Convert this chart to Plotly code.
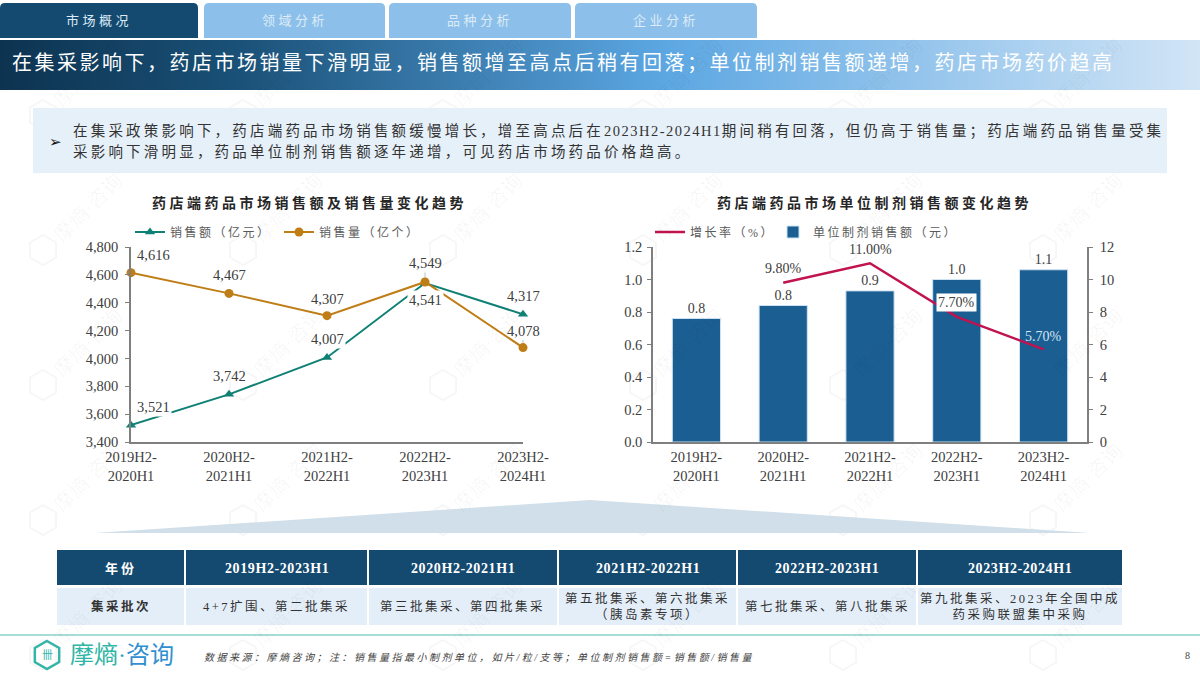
import base64
import plotly.graph_objects as go

# 数据
periods = ["2019H2-<br>2020H1", "2020H2-<br>2021H1", "2021H2-<br>2022H1", "2022H2-<br>2023H1", "2023H2-<br>2024H1"]
sales_amount = [3521, 3742, 4007, 4541, 4317]
sales_volume = [4616, 4467, 4307, 4549, 4078]
unit_sales = [0.76, 0.84, 0.93, 1.00, 1.06]
growth_periods = periods[1:]
growth_rate = [9.8, 11.0, 7.7, 5.7]

tabs = ["市场概况", "领域分析", "品种分析", "企业分析"]
headline = "在集采影响下，药店市场销量下滑明显，销售额增至高点后稍有回落；单位制剂销售额递增，药店市场药价趋高"
table_header = ["年份", "2019H2-2023H1", "2020H2-2021H1", "2021H2-2022H1", "2022H2-2023H1", "2023H2-2024H1"]
table_row = ["集采批次", "4+7扩围、第二批集采", "第三批集采、第四批集采", "第五批集采、第六批集采<br>（胰岛素专项）",
             "第七批集采、第八批集采", "第九批集采、2023年全国中成<br>药采购联盟集中采购"]

FONT = "Liberation Serif, Noto Sans CJK SC"
TEXT = "#404040"
TEAL = "#0f8074"
ORANGE = "#bf7d16"
BAR = "#1a5e92"
CRIMSON = "#c0134f"
NAVY = "#154a70"


def px(x):
    return x / 1200


def py(y):
    return 1 - y / 675


def spaced(text, gap):
    return f'<span style="letter-spacing:{gap}px">{text}</span>'


def rect(x0, y0, x1, y1, color):
    return dict(type="rect", xref="paper", yref="paper", x0=px(x0), x1=px(x1), y0=py(y0), y1=py(y1),
                fillcolor=color, line_width=0, layer="below")


def poly(points, fill=None, line=None, width=1, layer="below"):
    d = "M" + " L".join(f"{px(x):.5f},{py(y):.5f}" for x, y in points) + " Z"
    return dict(type="path", xref="paper", yref="paper", path=d, fillcolor=fill or "rgba(0,0,0,0)",
                line=dict(color=line or "rgba(0,0,0,0)", width=width), layer=layer)


def label(x, y, text, size=14, color=TEXT, anchor="center", **kw):
    return dict(xref="paper", yref="paper", x=px(x), y=py(y), text=text, showarrow=False,
                xanchor=anchor, yanchor="middle", font=dict(family=FONT, size=size, color=color), **kw)


def hexagon(cx, cy, r):
    return [(cx, cy - r), (cx + r * 0.87, cy - r * 0.5), (cx + r * 0.87, cy + r * 0.5),
            (cx, cy + r), (cx - r * 0.87, cy + r * 0.5), (cx - r * 0.87, cy - r * 0.5)]


shapes = []
annotations = []

# 水印
for wx in range(43, 1200, 200):
    for wy in (115, 250, 385, 520, 655):
        shapes.append(poly(hexagon(wx, wy, 15), line="rgba(0,0,0,0.035)", width=2))
        annotations.append(label(wx + 45, wy - 42, "摩熵·咨询", size=20, color="rgba(0,0,0,0.04)", textangle=-45))

# 顶部页签
tab_edges = [(0, 198), (204, 385), (389, 571), (575, 757)]
for i, (name, (x0, x1)) in enumerate(zip(tabs, tab_edges)):
    d = (f"M{px(x0)},{py(38)} L{px(x0)},{py(8)} Q{px(x0)},{py(3)} {px(x0 + 5)},{py(3)} "
         f"L{px(x1 - 5)},{py(3)} Q{px(x1)},{py(3)} {px(x1)},{py(8)} L{px(x1)},{py(38)} Z")
    shapes.append(dict(type="path", xref="paper", yref="paper", path=d, line_width=0,
                       fillcolor=NAVY if i == 0 else "#8cc0ea", layer="below"))
    annotations.append(label((x0 + x1) / 2, 21, spaced(name, 3.5), size=13, color="#dcebf7"))

# 标题栏渐变
svg = ('<svg xmlns="http://www.w3.org/2000/svg" width="1200" height="50" preserveAspectRatio="none">'
       '<defs><linearGradient id="g"><stop offset="0" stop-color="#0d3350"/>'
       '<stop offset="0.2" stop-color="#1a5178"/><stop offset="0.55" stop-color="#5ba6e2"/>'
       '<stop offset="1" stop-color="#d2e5f6"/></linearGradient></defs>'
       '<rect width="1200" height="50" fill="url(#g)"/></svg>')
images = [dict(source="data:image/svg+xml;base64," + base64.b64encode(svg.encode()).decode(),
               xref="paper", yref="paper", x=0, y=py(40), sizex=1, sizey=50 / 675,
               sizing="stretch", xanchor="left", yanchor="top", layer="below")]
annotations.append(label(10, 63, spaced(headline, 2.5), size=20, color="white", anchor="left"))

# 说明文字
shapes.append(rect(33, 108, 1167, 173, "#e6f0f9"))
annotations.append(dict(xref="paper", yref="paper", x=px(47), y=py(131), text="➢", showarrow=False,
                        font=dict(family="DejaVu Sans", size=15, color="#111111")))
annotations.append(label(71, 131, spaced("在集采政策影响下，药店端药品市场销售额缓慢增长，增至高点后在", 3.2)
                         + spaced("2023H2-2024H1", 1.5)
                         + spaced("期间稍有回落，但仍高于销售量；药店端药品销售量受集", 3.2),
                         size=14.5, color="#333333", anchor="left"))
annotations.append(label(71, 152, spaced("采影响下滑明显，药品单位制剂销售额逐年递增，可见药店市场药品价格趋高。", 3.2),
                         size=14.5, color="#333333", anchor="left"))

# 图表标题
annotations.append(label(309, 203, spaced("<b>药店端药品市场销售额及销售量变化趋势</b>", 3.5), size=14, color="#262626"))
annotations.append(label(874, 203, spaced("<b>药店端药品市场单位制剂销售额变化趋势</b>", 3.5), size=14, color="#262626"))

# 三角装饰
shapes.append(poly([(95, 533), (590, 500), (1090, 533)], fill="#d0dfe9"))

# 表格
col_edges = [56, 185, 368, 558, 737, 917, 1123]
for i in range(len(table_header)):
    x0, x1 = col_edges[i] + 1, col_edges[i + 1] - 1
    shapes.append(rect(x0, 550, x1, 585, NAVY))
    shapes.append(rect(x0, 588, x1, 625, "#e3eef8"))
    head = spaced(table_header[i], 0.6) if i else spaced(table_header[i], 3)
    annotations.append(label((x0 + x1) / 2, 568, f"<b>{head}</b>", size=14 if i else 13, color="white"))
    cell = f"<b>{spaced(table_row[i], 2.5)}</b>" if i == 0 else spaced(table_row[i], 2.5)
    annotations.append(label((x0 + x1) / 2, 606, cell, size=12.5, color="#333333"))

# 页脚
shapes.append(rect(0, 634, 1200, 636, "#a8dcd6"))
shapes.append(poly(hexagon(47, 655, 14), line="#35b5a8", width=2.5))
annotations.append(label(47, 655, "卌", size=11, color="#35b5a8"))
annotations.append(dict(xref="paper", yref="paper", x=px(68), y=py(655), xanchor="left", yanchor="middle",
                        showarrow=False, text='<span style="color:#2fb5a6">摩熵</span>·<span style="color:#2f8fd0">咨询</span>',
                        font=dict(family=FONT, size=24, color="#2fa5bc")))
annotations.append(label(202, 657, "<i>" + spaced("数据来源：摩熵咨询；注：销售量指最小制剂单位，如片/粒/支等；单位制剂销售额=销售额/销售量", 2.5) + "</i>",
                         size=10, color="#444444", anchor="left"))
annotations.append(label(1187, 655, "8", size=10, color="#444444"))

fig = go.Figure()

# 左图：销售额 / 销售量
fig.add_trace(go.Scatter(
    x=periods, y=sales_amount, mode="lines+markers", name=spaced("销售额（亿元）", 2.5),
    line=dict(color=TEAL, width=2), marker=dict(symbol="triangle-up", size=9, color=TEAL),
    cliponaxis=False, xaxis="x", yaxis="y", legend="legend"))
fig.add_trace(go.Scatter(
    x=periods, y=sales_volume, mode="lines+markers", name=spaced("销售量（亿个）", 2.5),
    line=dict(color=ORANGE, width=2), marker=dict(symbol="circle", size=9, color=ORANGE),
    cliponaxis=False, xaxis="x", yaxis="y", legend="legend"))

# 右图：增长率 / 单位制剂销售额
fig.add_trace(go.Bar(
    x=periods, y=unit_sales, name=spaced("单位制剂销售额（元）", 2.5), width=0.555,
    marker=dict(color=BAR, line=dict(color="#cfe2f3", width=1)),
    texttemplate="%{y:.1f}", textposition="outside", cliponaxis=False,
    textfont=dict(family=FONT, size=14, color=TEXT), xaxis="x2", yaxis="y2", legend="legend3"))
fig.add_trace(go.Scatter(
    x=growth_periods, y=growth_rate, mode="lines", name=spaced("增长率（%）", 2.5),
    line=dict(color=CRIMSON, width=2.5), xaxis="x2", yaxis="y3", legend="legend2"))

# 数据标签
volume_shift = [(22, 18), (0, 18), (0, 17), (0, 19), (0, 17)]
amount_shift = [(22, 18), (0, 18), (0, 18), (0, -17), (0, 18)]
amount_bg = [True, False, True, True, False]
for i, p in enumerate(periods):
    leader = i in (3, 4)
    dx, dy = volume_shift[i]
    if leader:
        annotations.append(dict(x=p, y=sales_volume[i], xref="x", yref="y", text=f"{sales_volume[i]:,}",
                                showarrow=True, arrowhead=0, arrowwidth=0.7, arrowcolor="#a6a6a6",
                                ax=0, ay=-dy, standoff=4, font=dict(family=FONT, size=14.5, color=TEXT)))
    else:
        annotations.append(dict(x=p, y=sales_volume[i], xref="x", yref="y", text=f"{sales_volume[i]:,}",
                                showarrow=False, xshift=dx, yshift=dy, font=dict(family=FONT, size=14.5, color=TEXT)))
    dx, dy = amount_shift[i]
    annotations.append(dict(x=p, y=sales_amount[i], xref="x", yref="y", text=f"{sales_amount[i]:,}",
                            showarrow=False, xshift=dx, yshift=dy, borderpad=1,
                            bgcolor="white" if amount_bg[i] else "rgba(0,0,0,0)",
                            font=dict(family=FONT, size=14.5, color=TEXT)))

growth_shift = [14, 14, 14, 13]
growth_color = [TEXT, TEXT, TEXT, "#d5e6f5"]
growth_bg = ["rgba(0,0,0,0)", "rgba(0,0,0,0)", "white", "rgba(0,0,0,0)"]
for p, v, dy, c, bg in zip(growth_periods, growth_rate, growth_shift, growth_color, growth_bg):
    annotations.append(dict(x=p, y=v, xref="x2", yref="y3", text=f"{v:.2f}%", showarrow=False, yshift=dy,
                            bgcolor=bg, borderpad=1, font=dict(family=FONT, size=14, color=c)))

axis_line = dict(showline=True, linecolor="#7f7f7f", linewidth=1.5, showgrid=False, zeroline=False,
                 tickfont=dict(family=FONT, size=14.5, color=TEXT), tickcolor="#7f7f7f")
legend_font = dict(family=FONT, size=12, color="#595959")

fig.update_layout(
    width=1200, height=675, margin=dict(l=0, r=0, t=0, b=0, autoexpand=False),
    paper_bgcolor="white", plot_bgcolor="rgba(0,0,0,0)",
    font=dict(family=FONT, color=TEXT),
    shapes=shapes, images=images, annotations=annotations, bargap=0.445,
    xaxis=dict(domain=[px(131), px(523)], type="category", categoryorder="array", categoryarray=periods,
               range=[0, 4], ticks="", ticklabelstandoff=1, anchor="y", **axis_line),
    yaxis=dict(domain=[py(442), py(247)], range=[3400, 4800], dtick=200, tickformat=",", ticks="outside",
               ticklen=4, ticklabelstandoff=4, anchor="x", **axis_line),
    xaxis2=dict(domain=[px(653), px(1087)], type="category", categoryorder="array", categoryarray=periods,
                range=[-0.5, 4.5], ticks="", ticklabelstandoff=1, anchor="y2", **axis_line),
    yaxis2=dict(domain=[py(442), py(247)], range=[0, 1.2], dtick=0.2, tickformat=".1f", ticks="outside",
                ticklen=4, ticklabelstandoff=2, anchor="x2", **axis_line),
    yaxis3=dict(domain=[py(442), py(247)], range=[0, 12], dtick=2, side="right", overlaying="y2", ticks="outside",
                ticklen=4, ticklabelstandoff=4, anchor="x2", **axis_line),
    legend=dict(orientation="h", x=px(130), y=py(232), yanchor="middle", xanchor="left",
                font=legend_font, bgcolor="rgba(0,0,0,0)", entrywidth=104, itemwidth=30),
    legend2=dict(orientation="h", x=px(650), y=py(232), yanchor="middle", xanchor="left",
                 font=legend_font, bgcolor="rgba(0,0,0,0)", itemwidth=30),
    legend3=dict(orientation="h", x=px(773), y=py(232), yanchor="middle", xanchor="left",
                 font=legend_font, bgcolor="rgba(0,0,0,0)", itemwidth=30),
)

# 页面默认 body 有 8px 外边距，去掉后图表才与窗口对齐
fig.write_html("out.html", config={"displayModeBar": False}, post_script="document.body.style.margin='0';")
